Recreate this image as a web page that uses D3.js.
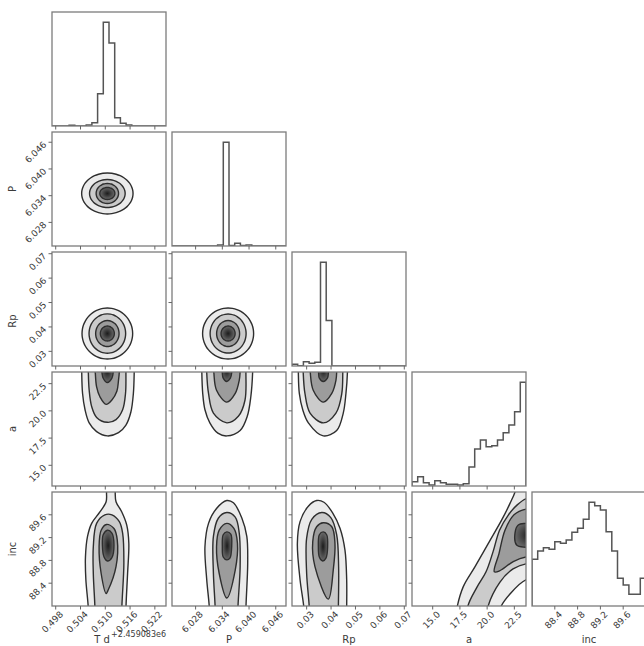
<!DOCTYPE html>
<html>
<head>
<meta charset="utf-8">
<script src="https://cdn.jsdelivr.net/npm/d3@7"></script>
<style>
  body { margin: 0; background: #fff; }
  svg { display: block; }
  text { font-family: "DejaVu Sans", sans-serif; }
</style>
</head>
<body>
<svg id="chart" width="644" height="646"></svg>
<script>
// ---- parameters of the posterior ----
const paramNames = ["T d", "P", "Rp", "a", "inc"];
const offsetLabel = "+2.459083e6";

// plotted range of every parameter (T is relative to 2459083)
const rangeT = [0.4971, 0.5247];
const rangeP = [6.0227, 6.0483];
const rangeRp = [0.0240, 0.0707];
const rangeA = [13.10, 23.57];
const rangeInc = [88.0, 90.0];

// tick values
const ticksT = [0.498, 0.504, 0.510, 0.516, 0.522];
const ticksP = [6.028, 6.034, 6.040, 6.046];
const ticksRp = [0.03, 0.04, 0.05, 0.06, 0.07];
const ticksA = [15.0, 17.5, 20.0, 22.5];
const ticksInc = [88.4, 88.8, 89.2, 89.6];
const tickFormats = [".3f", ".3f", ".2f", ".1f", ".1f"];

// 1-D marginal histograms, 20 equal bins over each range (relative counts)
const histT = [0, 0, 0, 0.7, 0, 0, 1, 3.2, 31, 100, 80, 8, 2.6, 1, 0, 0, 0, 0, 0, 0];
const histP = [0, 0, 0, 0, 0, 0, 0, 0, 1, 100, 0.5, 2.6, 0.5, 1, 0, 0, 0, 0, 0, 0];
const histRp = [1.6, 0.3, 4.2, 2.6, 3.5, 100, 44, 0, 0, 0, 0, 0, 0, 0, 0, 0, 0, 0, 0, 0];
const histA = [4.3, 9.3, 3.3, 1, 5.3, 3.3, 1.7, 1.7, 1, 2.3, 19, 37, 46, 39.3, 40.3, 46, 53.3, 61, 74.3, 103.7];
const histInc = [46.7, 55, 58.3, 56.7, 64.3, 62.7, 66, 73.7, 77.7, 86.7, 103.7, 100.3, 96, 74.3, 55, 27.7, 21, 11.7, 11.7, 27.7];

// 2-D credible contours (0.5, 1, 1.5, 2 sigma), outermost first.
// Near-Gaussian pairs: [centre x, centre y, half-width x, half-width y]
const ellipsesTP = [
  [0.5105, 6.0345, 0.00622, 0.00460],
  [0.5105, 6.0345, 0.00431, 0.00314],
  [0.5105, 6.0345, 0.00271, 0.00225],
  [0.5105, 6.0345, 0.00182, 0.00135]
];
const ellipsesTRp = [
  [0.5105, 0.0373, 0.00613, 0.01044],
  [0.5105, 0.0373, 0.00443, 0.00807],
  [0.5105, 0.0373, 0.00283, 0.00532],
  [0.5105, 0.0373, 0.00169, 0.00307]
];
const ellipsesPRp = [
  [6.0353, 0.0373, 0.00573, 0.01044],
  [6.0353, 0.0373, 0.00404, 0.00799],
  [6.0353, 0.0373, 0.00258, 0.00532],
  [6.0353, 0.0373, 0.00157, 0.00307]
];
// Other pairs: closed outlines in data units (points past the range close them off-panel)
const contoursTA = [
  [[0.5043, 24.6], [0.5043, 23.5], [0.5045, 21.6], [0.5051, 20.1], [0.5061, 18.9], [0.5079, 18.1], [0.5105, 17.7], [0.5132, 18.0], [0.5150, 18.7], [0.5162, 19.9], [0.5168, 21.6], [0.5170, 23.5], [0.5170, 24.6]],
  [[0.5059, 24.6], [0.5059, 23.5], [0.5061, 21.9], [0.5067, 20.4], [0.5079, 19.4], [0.5105, 18.95], [0.5126, 19.2], [0.5142, 20.1], [0.5149, 21.6], [0.5150, 23.5], [0.5150, 24.6]],
  [[0.5075, 24.6], [0.5076, 23.4], [0.5079, 22.2], [0.5087, 21.3], [0.5102, 20.6], [0.5116, 21.0], [0.5128, 21.8], [0.5132, 22.8], [0.5134, 23.6], [0.5134, 24.6]],
  [[0.5091, 24.6], [0.5092, 23.5], [0.5095, 23.0], [0.5105, 22.6], [0.5116, 23.0], [0.5119, 23.5], [0.5119, 24.6]]
];
const contoursPA = [
  [[6.0294, 24.6], [6.0294, 23.5], [6.0296, 21.6], [6.0301, 20.1], [6.0312, 18.9], [6.0330, 17.95], [6.0350, 17.7], [6.0380, 18.2], [6.0396, 19.5], [6.0404, 21.3], [6.0408, 23.5], [6.0408, 24.6]],
  [[6.0305, 24.6], [6.0305, 23.5], [6.0309, 21.6], [6.0320, 19.8], [6.0350, 18.9], [6.0376, 19.5], [6.0391, 21.0], [6.0393, 23.5], [6.0393, 24.6]],
  [[6.0320, 24.6], [6.0321, 23.5], [6.0327, 21.9], [6.0350, 20.8], [6.0369, 21.6], [6.0378, 22.8], [6.0380, 23.6], [6.0380, 24.6]],
  [[6.0339, 24.6], [6.0340, 23.5], [6.0342, 23.0], [6.0350, 22.7], [6.0358, 23.0], [6.0361, 23.5], [6.0361, 24.6]]
];
const contoursRpA = [
  [[0.0266, 24.6], [0.0266, 23.5], [0.0270, 21.6], [0.0284, 20.1], [0.0307, 18.9], [0.0368, 17.7], [0.0423, 18.2], [0.0450, 19.8], [0.0461, 21.6], [0.0467, 23.5], [0.0467, 24.6]],
  [[0.0286, 24.6], [0.0286, 23.5], [0.0293, 21.6], [0.0314, 19.8], [0.0368, 18.9], [0.0420, 19.8], [0.0444, 21.6], [0.0448, 23.5], [0.0448, 24.6]],
  [[0.0314, 24.6], [0.0315, 23.5], [0.0327, 21.9], [0.0368, 20.8], [0.0403, 21.6], [0.0420, 22.8], [0.0423, 23.6], [0.0423, 24.6]],
  [[0.0348, 24.6], [0.0349, 23.5], [0.0352, 23.0], [0.0368, 22.7], [0.0385, 23.0], [0.0389, 23.5], [0.0389, 24.6]]
];
const contoursTInc = [
  [[0.5103, 90.4], [0.5103, 90.0], [0.5102, 89.83], [0.5087, 89.65], [0.5067, 89.45], [0.5057, 89.22], [0.5052, 88.86], [0.5053, 88.46], [0.5059, 87.95], [0.5059, 87.6],
   [0.5150, 87.6], [0.5150, 87.95], [0.5154, 88.57], [0.5157, 89.10], [0.5152, 89.42], [0.5140, 89.65], [0.5126, 89.83], [0.5124, 90.0], [0.5124, 90.4]],
  [[0.5075, 87.6], [0.5075, 87.95], [0.5071, 88.57], [0.5071, 89.04], [0.5079, 89.45], [0.5099, 89.60], [0.5116, 89.60], [0.5134, 89.48], [0.5142, 89.28], [0.5145, 88.75], [0.5140, 87.95], [0.5140, 87.6]],
  [[0.5102, 88.22], [0.5090, 88.57], [0.5085, 89.04], [0.5090, 89.33], [0.5103, 89.43], [0.5121, 89.36], [0.5129, 89.16], [0.5126, 88.69], [0.5107, 88.28]],
  [[0.5095, 89.25], [0.5105, 89.33], [0.5116, 89.28], [0.5121, 89.07], [0.5116, 88.85], [0.5105, 88.79], [0.5097, 88.86], [0.5093, 89.07]]
];
const contoursPInc = [
  [[6.0311, 87.6], [6.0311, 87.95], [6.0305, 88.46], [6.0301, 89.04], [6.0309, 89.45], [6.0327, 89.71], [6.0350, 89.85], [6.0365, 89.81], [6.0384, 89.54], [6.0395, 89.22], [6.0397, 88.75], [6.0393, 87.95], [6.0393, 87.6]],
  [[6.0324, 87.6], [6.0324, 87.95], [6.0320, 88.57], [6.0320, 89.22], [6.0331, 89.54], [6.0350, 89.64], [6.0369, 89.56], [6.0378, 89.28], [6.0380, 88.69], [6.0375, 87.95], [6.0375, 87.6]],
  [[6.0350, 88.14], [6.0333, 88.57], [6.0327, 89.04], [6.0333, 89.33], [6.0350, 89.45], [6.0366, 89.36], [6.0374, 89.10], [6.0369, 88.63]],
  [[6.0342, 89.25], [6.0350, 89.30], [6.0359, 89.26], [6.0361, 89.04], [6.0357, 88.84], [6.0350, 88.81], [6.0342, 88.86], [6.0340, 89.04]]
];
const contoursRpInc = [
  [[0.0289, 87.6], [0.0289, 87.95], [0.0273, 88.46], [0.0262, 89.10], [0.0273, 89.48], [0.0307, 89.75], [0.0341, 89.85], [0.0371, 89.82], [0.0407, 89.63], [0.0437, 89.36], [0.0457, 88.98], [0.0464, 88.46], [0.0464, 87.95], [0.0464, 87.6]],
  [[0.0311, 87.6], [0.0311, 87.95], [0.0300, 88.57], [0.0300, 89.19], [0.0321, 89.52], [0.0362, 89.64], [0.0399, 89.55], [0.0423, 89.25], [0.0431, 88.69], [0.0430, 87.95], [0.0430, 87.6]],
  [[0.0389, 88.12], [0.0334, 88.69], [0.0325, 89.13], [0.0341, 89.39], [0.0368, 89.46], [0.0403, 89.39], [0.0416, 89.10], [0.0409, 88.63]],
  [[0.0352, 89.25], [0.0368, 89.30], [0.0382, 89.25], [0.0386, 89.04], [0.0379, 88.84], [0.0366, 88.79], [0.0352, 88.86], [0.0348, 89.04]]
];
// a–inc: a diagonal ridge that peaks against the upper end of a
const contoursAInc = [
  [[17.0, 87.6], [17.21, 87.95], [17.81, 88.34], [18.89, 88.69], [20.11, 89.10], [21.34, 89.51], [22.10, 89.80], [22.65, 90.05], [23.0, 90.5], [24.8, 90.5],
   [24.8, 88.46], [23.57, 88.46], [22.10, 88.21], [21.18, 87.95], [21.0, 87.6]],
  [[18.1, 87.6], [18.22, 87.99], [19.07, 88.33], [19.90, 88.60], [20.54, 88.95], [21.14, 89.33], [21.96, 89.60], [22.74, 89.77], [23.57, 89.88], [24.8, 89.9],
   [24.8, 88.74], [23.57, 88.74], [22.38, 88.65], [21.18, 88.42], [20.02, 87.95], [19.9, 87.6]],
  [[24.8, 89.70], [23.57, 89.70], [22.47, 89.60], [21.64, 89.33], [21.09, 88.92], [20.66, 88.60], [21.18, 88.62], [22.40, 88.78], [23.57, 88.86], [24.8, 88.86]],
  [[24.8, 89.46], [23.57, 89.45], [22.86, 89.42], [22.56, 89.28], [22.71, 89.07], [23.57, 89.03], [24.8, 89.03]]
];

// ---- layout ----
const origin = [52, 12];
const cell = 114, step = 120;
const nDim = paramNames.length;

const ranges = [rangeT, rangeP, rangeRp, rangeA, rangeInc];
const ticks = [ticksT, ticksP, ticksRp, ticksA, ticksInc];
const hists = [histT, histP, histRp, histA, histInc];
const pairData = {
  "1-0": { ellipses: ellipsesTP },
  "2-0": { ellipses: ellipsesTRp },
  "2-1": { ellipses: ellipsesPRp },
  "3-0": { outlines: contoursTA },
  "3-1": { outlines: contoursPA },
  "3-2": { outlines: contoursRpA },
  "4-0": { outlines: contoursTInc },
  "4-1": { outlines: contoursPInc },
  "4-2": { outlines: contoursRpInc },
  "4-3": { outlines: contoursAInc }
};
// vertical offset of a y-axis label from its row centre
const yLabelShift = [0, 0, 12, 0, 0];

const bandFills = ["#ebebeb", "#cbcbcb", "#9c9c9c", "url(#core)"];
const contourStroke = "#2e2e2e";
const frameStroke = "#7c7c7c";
const histStroke = "#555";
const tickColor = "#666";
const labelColor = "#3a3a3a";

const svg = d3.select("#chart");
const defs = svg.append("defs");
const core = defs.append("radialGradient").attr("id", "core");
core.append("stop").attr("offset", "0%").attr("stop-color", "#1c1c1c");
core.append("stop").attr("offset", "100%").attr("stop-color", "#6a6a6a");

function xScale(j) {
  const x0 = origin[0] + j * step;
  return d3.scaleLinear().domain(ranges[j]).range([x0, x0 + cell]);
}
function yScale(i) {
  const y0 = origin[1] + i * step;
  return d3.scaleLinear().domain(ranges[i]).range([y0 + cell, y0]);
}

const lineGen = d3.line().curve(d3.curveCatmullRomClosed.alpha(0.5));

for (let i = 0; i < nDim; i++) {
  for (let j = 0; j <= i; j++) {
    const x = xScale(j);
    const x0 = origin[0] + j * step, y0 = origin[1] + i * step;
    const clipId = `clip-${i}-${j}`;
    defs.append("clipPath").attr("id", clipId)
      .append("rect").attr("x", x0).attr("y", y0).attr("width", cell).attr("height", cell);
    const g = svg.append("g");
    const body = g.append("g").attr("clip-path", `url(#${clipId})`);

    if (i === j) {
      // marginal histogram as a step outline
      const counts = hists[i];
      const edges = d3.range(counts.length + 1).map(k =>
        ranges[i][0] + (ranges[i][1] - ranges[i][0]) * k / counts.length);
      const y = d3.scaleLinear().domain([0, 1.1 * d3.max(counts)]).range([y0 + cell, y0]);
      const pts = [[edges[0], 0]];
      counts.forEach((c, k) => { pts.push([edges[k], c]); pts.push([edges[k + 1], c]); });
      pts.push([edges[counts.length], 0]);
      body.append("path")
        .attr("d", d3.line().x(d => x(d[0])).y(d => y(d[1]))(pts))
        .attr("fill", "none").attr("stroke", histStroke).attr("stroke-width", 1.5);
    } else {
      const y = yScale(i);
      const pd = pairData[`${i}-${j}`];
      let rings;
      if (pd.ellipses) {
        rings = pd.ellipses.map(([cx, cy, rx, ry]) =>
          d3.range(36).map(k => {
            const t = 2 * Math.PI * k / 36;
            return [x(cx + rx * Math.cos(t)), y(cy + ry * Math.sin(t))];
          }));
      } else {
        rings = pd.outlines.map(ring => ring.map(p => [x(p[0]), y(p[1])]));
      }
      rings.forEach((ring, k) => {
        body.append("path").attr("d", lineGen(ring))
          .attr("fill", bandFills[k]).attr("stroke", "none");
      });
      rings.forEach(ring => {
        body.append("path").attr("d", lineGen(ring))
          .attr("fill", "none").attr("stroke", contourStroke).attr("stroke-width", 1.4);
      });
    }

    // frame
    g.append("rect").attr("x", x0).attr("y", y0).attr("width", cell).attr("height", cell)
      .attr("fill", "none").attr("stroke", frameStroke).attr("stroke-width", 1.3);

    // bottom ticks
    const fmtX = d3.format(tickFormats[j]);
    ticks[j].forEach(v => {
      g.append("line").attr("x1", x(v)).attr("x2", x(v))
        .attr("y1", y0 + cell).attr("y2", y0 + cell + 3.5)
        .attr("stroke", tickColor).attr("stroke-width", 1);
      if (i === nDim - 1) {
        g.append("text")
          .attr("transform", `translate(${x(v) + 8},${y0 + cell + 9}) rotate(-45)`)
          .attr("text-anchor", "end").attr("font-size", 9).attr("fill", labelColor)
          .text(fmtX(v));
      }
    });
    // left ticks on off-diagonal panels
    if (j < i) {
      const y = yScale(i);
      const fmtY = d3.format(tickFormats[i]);
      ticks[i].forEach(v => {
        g.append("line").attr("x1", x0 - 3.5).attr("x2", x0)
          .attr("y1", y(v)).attr("y2", y(v))
          .attr("stroke", tickColor).attr("stroke-width", 1);
        if (j === 0) {
          g.append("text")
            .attr("transform", `translate(${x0 - 5},${y(v) + 3}) rotate(-45)`)
            .attr("text-anchor", "end").attr("font-size", 9).attr("fill", labelColor)
            .text(fmtY(v));
        }
      });
    }
  }
}

// axis labels
paramNames.forEach((name, k) => {
  const cx = origin[0] + k * step + cell / 2;
  svg.append("text").attr("x", k === 0 ? cx - 7 : cx).attr("y", 643)
    .attr("text-anchor", "middle").attr("font-size", 10).attr("fill", labelColor)
    .text(name);
  if (k > 0) {
    const cy = origin[1] + k * step + cell / 2 + yLabelShift[k];
    svg.append("text").attr("transform", `translate(16,${cy}) rotate(-90)`)
      .attr("text-anchor", "middle").attr("font-size", 10).attr("fill", labelColor)
      .text(name);
  }
});
svg.append("text").attr("x", origin[0] + cell).attr("y", 637)
  .attr("text-anchor", "end").attr("font-size", 8).attr("fill", labelColor)
  .text(offsetLabel);
</script>
</body>
</html>
